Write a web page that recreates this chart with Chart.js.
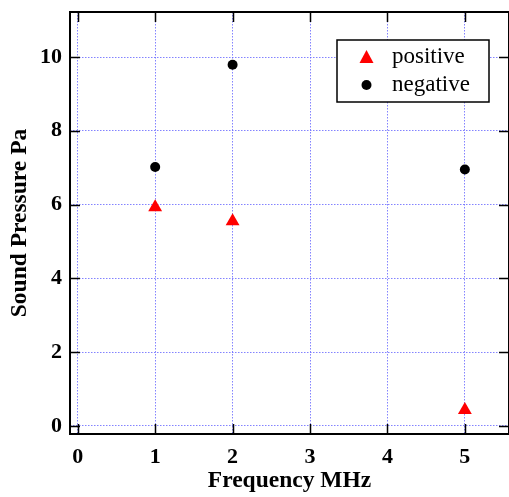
<!DOCTYPE html>
<html>
<head>
<meta charset="utf-8">
<script src="https://cdn.jsdelivr.net/npm/chart.js@4/dist/chart.umd.min.js"></script>
<style>
  html, body { margin: 0; padding: 0; background: #fff; }
</style>
</head>
<body>
<canvas id="chart" width="509" height="497"></canvas>
<script>
// values
const freq = [1, 2, 5]
const positive = [5.93, 5.55, 0.43]
const negative = [7.02, 9.79, 6.95]
const xTickValues = [0, 1, 2, 3, 4, 5]
const yTickValues = [0, 2, 4, 6, 8, 10]

const serif = '"Liberation Serif", "Times New Roman", serif'

// box + inward tick marks on all four sides
const frame = {
    id: 'frame',
    beforeDatasetsDraw(chart) {
        const { ctx, chartArea: a, scales } = chart
        ctx.save()
        ctx.strokeStyle = '#000'
        ctx.lineWidth = 1.5
        const len = 10
        ctx.beginPath()
        scales.x.ticks.forEach(t => {
            const px = Math.round(scales.x.getPixelForValue(t.value)) + 0.5
            ctx.moveTo(px, a.bottom); ctx.lineTo(px, a.bottom - len)
            ctx.moveTo(px, a.top); ctx.lineTo(px, a.top + len)
        })
        scales.y.ticks.forEach(t => {
            const py = Math.round(scales.y.getPixelForValue(t.value)) + 0.5
            ctx.moveTo(a.left, py); ctx.lineTo(a.left + len, py)
            ctx.moveTo(a.right, py); ctx.lineTo(a.right - len, py)
        })
        ctx.stroke()
        ctx.lineWidth = 2
        ctx.strokeRect(a.left, a.top, a.right - a.left, a.bottom - a.top)
        ctx.restore()
    }
}

// legend box inside the plot, top right
const boxLegend = {
    id: 'boxLegend',
    afterDraw(chart) {
        const { ctx } = chart
        ctx.save()
        ctx.fillStyle = '#fff'
        ctx.fillRect(337, 40, 152, 62)
        ctx.strokeStyle = '#000'
        ctx.lineWidth = 1.5
        ctx.strokeRect(337, 40, 152, 62)
        ctx.font = '23px ' + serif
        ctx.textBaseline = 'middle'
        chart.data.datasets.forEach((ds, i) => {
            const y = 57 + i * 28
            ctx.fillStyle = ds.backgroundColor
            if (ds.pointStyle === 'triangle') {
                ctx.beginPath()
                ctx.moveTo(366.5, y - 7)
                ctx.lineTo(373.5, y + 6)
                ctx.lineTo(359.5, y + 6)
                ctx.closePath()
                ctx.fill()
            } else {
                ctx.beginPath()
                ctx.arc(366.5, y, 5, 0, Math.PI * 2)
                ctx.fill()
            }
            ctx.fillStyle = '#000'
            ctx.fillText(ds.label, 392, y)
        })
        ctx.restore()
    }
}

const grid = {
    color: 'rgba(100, 100, 255, 0.8)',
    lineWidth: 1,
    drawTicks: false,
}
const dots = [1.5, 1.5]

// drop the label overhang padding chart.js adds, so the plot box fills the canvas
const noOverhang = s => { s.paddingTop = 0; s.paddingBottom = 0; s.paddingLeft = 0; s.paddingRight = 0 }

new Chart(document.getElementById('chart'), {
    type: 'scatter',
    data: {
        datasets: [
            {
                label: 'positive',
                data: freq.map((f, i) => ({ x: f, y: positive[i] })),
                pointStyle: 'triangle',
                pointRadius: 8,
                backgroundColor: '#ff0000',
                borderColor: '#ff0000',
                borderWidth: 0,
            },
            {
                label: 'negative',
                data: freq.map((f, i) => ({ x: f, y: negative[i] })),
                pointStyle: 'circle',
                pointRadius: 5,
                backgroundColor: '#000000',
                borderColor: '#000000',
                borderWidth: 0,
            }
        ]
    },
    options: {
        responsive: false,
        animation: false,
        layout: { autoPadding: false, padding: { top: 12, right: -2, left: 0, bottom: 0 } },
        plugins: { legend: { display: false }, tooltip: { enabled: false } },
        scales: {
            x: {
                type: 'linear',
                min: -0.1,
                max: 5.57,
                afterBuildTicks: s => { s.ticks = xTickValues.map(v => ({ value: v })) },
                afterFit: s => { s.height = 63; noOverhang(s) },
                grid: grid,
                border: { display: false, dash: dots },
                ticks: {
                    padding: 10,
                    color: '#000',
                    font: { family: serif, size: 22, weight: 'bold' },
                },
                title: {
                    display: true,
                    text: 'Frequency MHz',
                    color: '#000',
                    font: { family: serif, size: 23.5, weight: 'bold' },
                    padding: { top: 0, bottom: 2 },
                },
            },
            y: {
                type: 'linear',
                min: -0.22,
                max: 11.22,
                afterBuildTicks: s => { s.ticks = yTickValues.map(v => ({ value: v })) },
                afterFit: s => { s.width = 70; noOverhang(s) },
                grid: grid,
                border: { display: false, dash: dots },
                ticks: {
                    padding: 8,
                    color: '#000',
                    font: { family: serif, size: 22, weight: 'bold' },
                },
                title: {
                    display: true,
                    text: 'Sound Pressure Pa',
                    color: '#000',
                    font: { family: serif, size: 23.5, weight: 'bold' },
                    padding: { top: 6, bottom: 0 },
                },
            }
        }
    },
    plugins: [frame, boxLegend]
})
</script>
</body>
</html>
